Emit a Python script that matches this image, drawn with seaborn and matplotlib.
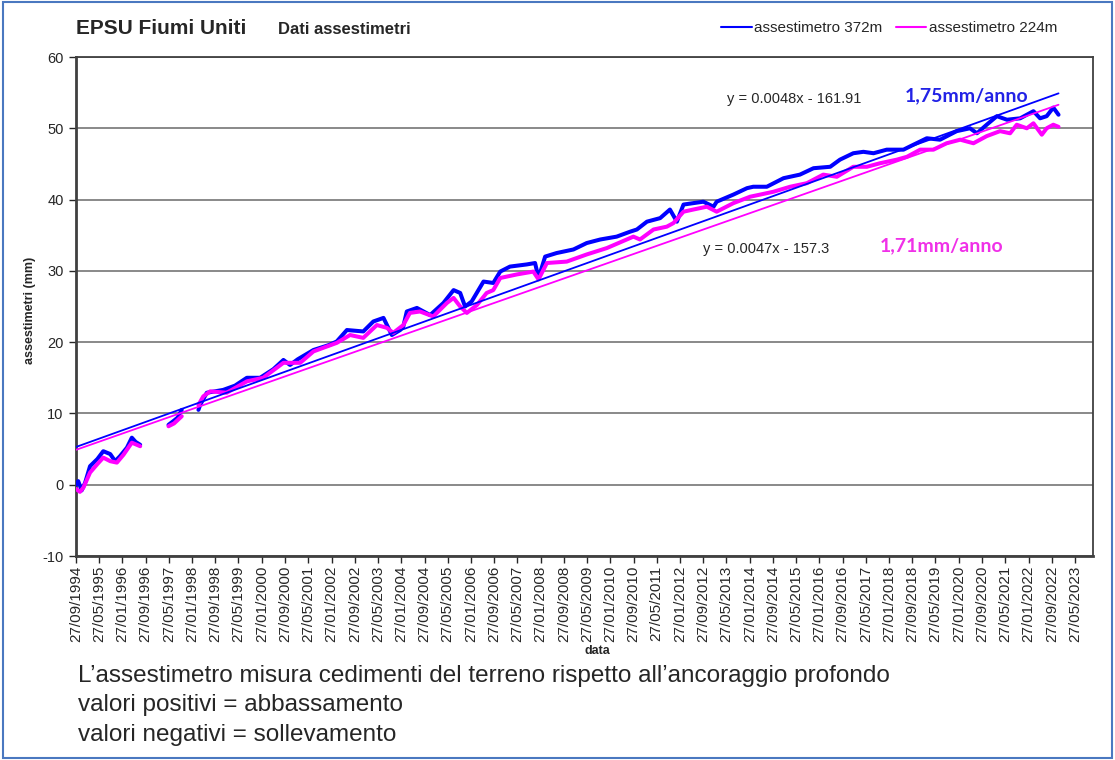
import numpy as np
import pandas as pd
import seaborn as sns
import matplotlib.pyplot as plt
import matplotlib.dates as mdates
from matplotlib.lines import Line2D
from matplotlib.patches import Rectangle

# ---------------------------------------------------------------------------
# data (decimal years, settlement in mm)
# NaN marks the gaps in the records
# ---------------------------------------------------------------------------
blue_years = [1994.74, 1994.80, 1994.90, 1995.00, 1995.14, 1995.35, 1995.52, 1995.72,
              1995.86, 1996.00, 1996.20, 1996.34, 1996.45, 1996.58, np.nan,
              1997.39, 1997.55, 1997.65, 1997.77, np.nan,
              1998.25, 1998.30, 1998.49, 1998.96, 1999.30, 1999.64, 2000.02, 2000.40,
              2000.69, 2000.88, 2001.10, 2001.55, 2002.00, 2002.22, 2002.51, 2002.98,
              2003.27, 2003.56, 2003.62, 2003.80, 2004.04, 2004.13, 2004.23, 2004.52,
              2004.90, 2005.28, 2005.57, 2005.76, 2005.90, 2006.09, 2006.43, 2006.71,
              2006.91, 2007.19, 2007.67, 2007.91, 2008.01, 2008.20, 2008.53, 2009.01,
              2009.39, 2009.78, 2010.25, 2010.64, 2010.83, 2011.12, 2011.50, 2011.78,
              2011.98, 2012.17, 2012.45, 2012.74, 2013.03, 2013.12, 2013.60, 2013.99,
              2014.17, 2014.56, 2015.04, 2015.51, 2015.90, 2016.38, 2016.66, 2017.04,
              2017.33, 2017.62, 2018.00, 2018.48, 2018.77, 2019.15, 2019.53, 2020.01,
              2020.39, 2020.59, 2020.87, 2021.16, 2021.45, 2021.83, 2022.21, 2022.40,
              2022.59, 2022.78, 2022.93]
blue_mm = [0.0, 0.5, -0.8, 0.3, 2.6, 3.6, 4.7, 4.3,
           3.3, 4.0, 5.2, 6.6, 6.0, 5.6, np.nan,
           8.4, 9.0, 9.4, 10.5, np.nan,
           10.5, 11.2, 12.9, 13.3, 13.9, 15.0, 15.0, 16.2,
           17.5, 16.8, 17.6, 18.9, 19.6, 20.1, 21.7, 21.5,
           22.9, 23.4, 22.8, 21.0, 21.7, 22.2, 24.3, 24.8,
           23.8, 25.5, 27.3, 26.9, 25.0, 25.7, 28.5, 28.3,
           29.9, 30.6, 30.9, 31.1, 29.0, 32.0, 32.5, 33.0,
           33.9, 34.4, 34.8, 35.5, 35.8, 36.9, 37.4, 38.6,
           36.9, 39.3, 39.5, 39.7, 39.0, 39.7, 40.7, 41.6,
           41.8, 41.8, 43.0, 43.5, 44.4, 44.6, 45.6, 46.5,
           46.7, 46.5, 47.0, 47.0, 47.7, 48.6, 48.4, 49.6,
           50.0, 49.3, 50.5, 51.7, 51.2, 51.4, 52.4, 51.4,
           51.7, 52.9, 51.9]

pink_years = [1994.74, 1994.85, 1994.95, 1995.14, 1995.35, 1995.52, 1995.72, 1995.91,
              1996.10, 1996.34, 1996.58, np.nan,
              1997.39, 1997.55, 1997.77, np.nan,
              1998.25, 1998.39, 1998.59, 1999.06, 1999.64, 2000.11, 2000.69, 2001.17,
              2001.55, 2002.22, 2002.60, 2002.98, 2003.37, 2003.66, 2003.84, 2004.13,
              2004.32, 2004.61, 2004.99, 2005.38, 2005.57, 2005.76, 2005.95, 2006.24,
              2006.52, 2006.71, 2006.91, 2007.39, 2007.86, 2008.01, 2008.25, 2008.82,
              2009.39, 2009.97, 2010.73, 2010.92, 2011.31, 2011.69, 2011.88, 2012.17,
              2012.45, 2012.84, 2013.12, 2013.60, 2014.08, 2014.37, 2014.75, 2015.23,
              2015.71, 2016.18, 2016.57, 2017.04, 2017.43, 2017.81, 2018.29, 2018.58,
              2018.96, 2019.34, 2019.72, 2020.11, 2020.49, 2020.87, 2021.25, 2021.54,
              2021.73, 2022.02, 2022.21, 2022.45, 2022.59, 2022.78, 2022.93]
pink_mm = [-0.6, -1.0, -0.4, 1.7, 2.9, 3.8, 3.3, 3.1,
           4.2, 5.9, 5.4, np.nan,
           8.2, 8.6, 9.6, np.nan,
           11.2, 12.4, 13.1, 12.9, 14.5, 15.0, 17.1, 17.1,
           18.7, 19.9, 21.0, 20.6, 22.4, 22.0, 21.3, 22.4,
           24.1, 24.3, 23.6, 25.5, 26.2, 25.0, 24.1, 25.2,
           26.9, 27.3, 29.0, 29.5, 29.9, 28.8, 31.1, 31.3,
           32.3, 33.2, 34.8, 34.4, 35.8, 36.2, 36.7, 38.3,
           38.6, 39.0, 38.3, 39.5, 40.4, 40.7, 41.1, 41.8,
           42.3, 43.5, 43.2, 44.6, 44.6, 45.1, 45.6, 46.0,
           47.0, 47.0, 47.9, 48.4, 47.9, 48.9, 49.6, 49.3,
           50.5, 50.0, 50.7, 49.1, 50.0, 50.5, 50.2]

# linear trend lines (start / end of record)
trend_years = [1994.74, 2022.93]
blue_trend = [5.3, 54.9]
pink_trend = [4.9, 53.3]

series_names = ["assestimetro 372m", "assestimetro 224m"]
eq_blue = "y = 0.0048x - 161.91"
eq_pink = "y = 0.0047x - 157.3"
rate_blue = "1,75mm/anno"
rate_pink = "1,71mm/anno"
notes = ["L\u2019assestimetro misura cedimenti del terreno rispetto all\u2019ancoraggio profondo",
         "valori positivi = abbassamento",
         "valori negativi = sollevamento"]

BLUE = "#0000FF"
PINK = "#FF00FF"


def to_date(y):
    y0 = int(y)
    return pd.Timestamp(f"{y0}-01-01") + pd.to_timedelta((y - y0) * 365.25, unit="D")


def segments(years, vals):
    # split a series at the NaN gaps
    segs, cur = [], []
    for yr, v in zip(years, vals):
        if np.isnan(yr):
            if cur:
                segs.append(pd.DataFrame(cur, columns=["data", "mm"]))
            cur = []
        else:
            cur.append((to_date(yr), v))
    if cur:
        segs.append(pd.DataFrame(cur, columns=["data", "mm"]))
    return segs


sns.set_style("white")
plt.rcParams["font.family"] = ["Liberation Sans", "DejaVu Sans"]
plt.rcParams["axes.unicode_minus"] = False

W, H = 1115, 760
fig = plt.figure(figsize=(W / 100, H / 100), dpi=100)
ax = fig.add_axes([76 / W, 1 - 556 / H, (1093 - 76) / W, (556 - 57) / H])

for name, years, vals, col in [(series_names[0], blue_years, blue_mm, BLUE),
                               (series_names[1], pink_years, pink_mm, PINK)]:
    for seg in segments(years, vals):
        sns.lineplot(data=seg, x="data", y="mm", ax=ax, color=col, lw=2.9,
                     estimator=None, sort=False, zorder=3)

trend = pd.DataFrame({"data": [to_date(y) for y in trend_years],
                      "blue": blue_trend, "pink": pink_trend})
sns.lineplot(data=trend, x="data", y="blue", ax=ax, color=BLUE, lw=1.3, zorder=4)
sns.lineplot(data=trend, x="data", y="pink", ax=ax, color=PINK, lw=1.3, zorder=4)

# axes
ax.set_ylim(-10, 60)
ax.set_yticks(range(-10, 61, 10))
ax.set_xlim(pd.Timestamp("1994-09-27"), pd.Timestamp("2023-12-03"))
ticks = [pd.Timestamp("1994-09-27") + pd.DateOffset(months=8 * i) for i in range(44)]
ax.set_xticks(ticks)
ax.xaxis.set_major_formatter(mdates.DateFormatter("%d/%m/%Y"))
ax.tick_params(axis="x", labelrotation=90, labelsize=11, length=5, width=1,
               direction="out", bottom=True, pad=2)
ax.tick_params(axis="y", labelsize=10.5, length=5, width=1, direction="out",
               left=True, pad=4)
ax.grid(axis="y", color="#808080", lw=1.3)
ax.set_axisbelow(True)
for s in ax.spines.values():
    s.set_color("#404040")
    s.set_linewidth(1.3)
ax.spines["left"].set_linewidth(2.0)
ax.spines["bottom"].set_linewidth(2.0)
ax.set_xlabel("")
ax.set_ylabel("")

# titles, legend, labels
fig.text(76 / W, 1 - 28 / H, "EPSU Fiumi Uniti", fontsize=15, fontweight="bold",
         ha="left", va="center")
fig.text(278 / W, 1 - 29 / H, "Dati assestimetri", fontsize=12, fontweight="bold",
         ha="left", va="center")

handles = [Line2D([], [], color=BLUE, lw=1.5), Line2D([], [], color=PINK, lw=1.5)]
fig.legend(handles, series_names, loc="center", bbox_to_anchor=(889 / W, 1 - 28 / H),
           ncol=2, frameon=False, fontsize=11, handlelength=2.0,
           handletextpad=0.15, columnspacing=0.9, borderpad=0)

fig.text(727 / W, 1 - 99 / H, eq_blue, fontsize=10.5, ha="left", va="center")
fig.text(703 / W, 1 - 249 / H, eq_pink, fontsize=10.5, ha="left", va="center")
fig.text(905 / W, 1 - 96 / H, rate_blue, fontsize=14, fontweight="bold",
         color="#2222E6", ha="left", va="center", family=["Lato", "DejaVu Sans"])
fig.text(880 / W, 1 - 246 / H, rate_pink, fontsize=14, fontweight="bold",
         color="#F030E8", ha="left", va="center", family=["Lato", "DejaVu Sans"])

fig.text(30 / W, 1 - 310 / H, "assestimetri (mm)", fontsize=9, fontweight="bold",
         rotation=90, ha="center", va="center")
fig.text(597 / W, 1 - 651 / H, "data", fontsize=9, fontweight="bold",
         ha="center", va="center")

for i, line in enumerate(notes):
    fig.text(78 / W, 1 - (676 + 29.5 * i) / H, line, fontsize=17.5, ha="left",
             va="center", family=["Liberation Sans Narrow", "Liberation Sans"])

# thin frame around the whole picture
fig.patches.append(Rectangle((0.003, 0.002), 0.994, 0.996, transform=fig.transFigure,
                             fill=False, edgecolor="#4A78C0", lw=1.5))

fig.savefig("out.png", dpi=100)
